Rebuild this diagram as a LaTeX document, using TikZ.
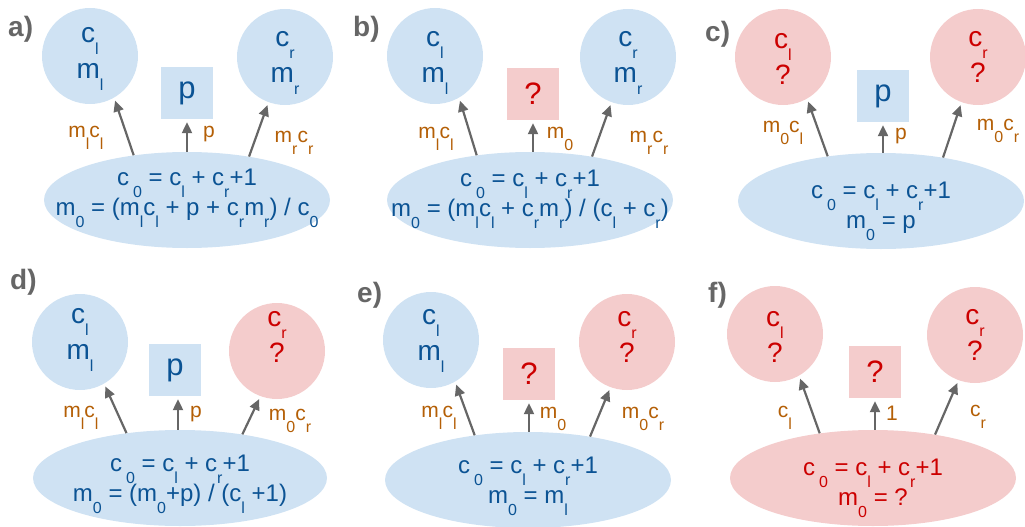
\documentclass[tikz,border=0pt]{standalone}
\usepackage{fontspec}
\setmainfont{Liberation Sans}
\usetikzlibrary{shapes.geometric,arrows.meta}
\definecolor{bfill}{HTML}{CFE2F3}
\definecolor{btext}{HTML}{0B5394}
\definecolor{rfill}{HTML}{F4CCCC}
\definecolor{rtext}{HTML}{CC0000}
\definecolor{otext}{HTML}{B45F06}
\definecolor{gline}{HTML}{666666}
\newcommand\sbs[1]{\smash{\raisebox{-12pt}{\fontsize{16}{18}\selectfont #1}}}
\tikzset{
  bcirc/.style={circle,fill=bfill,minimum size=96pt,inner sep=0pt},
  rcirc/.style={bcirc,fill=rfill},
  btxt/.style={text=btext,inner sep=0pt,align=center,font=\fontsize{28}{36}\selectfont},
  rtxt/.style={btxt,text=rtext},
  bsq/.style={rectangle,fill=bfill,text=btext,minimum size=52pt,inner sep=0pt,font=\fontsize{31}{32}\selectfont},
  rsq/.style={bsq,fill=rfill,text=rtext},
  bell/.style={ellipse,fill=bfill,minimum width=286pt,minimum height=96pt,inner sep=0pt},
  rell/.style={bell,fill=rfill},
  betxt/.style={text=btext,inner sep=0pt,align=center,anchor=north,font=\fontsize{24}{30}\selectfont},
  retxt/.style={betxt,text=rtext},
  lbl/.style={text=otext,inner sep=0pt,anchor=base,font=\fontsize{21}{24}\selectfont},
  plabel/.style={text=gline,inner sep=0pt,anchor=base west,font=\fontsize{28}{30}\selectfont\bfseries},
  arr/.style={draw=gline,line width=2.2pt,-{Triangle[length=11pt,width=10pt]},shorten >=3pt},
}
\begin{document}
\begin{tikzpicture}[x=1pt,y=-1pt]
\useasboundingbox (0,0) rectangle (1025,527);
% ---------- a)
\node[plabel] (alab) at (8,37) {a)};
\node[bcirc] (acl) at (90,56) {};
\node[btxt] (aclt) at (90,53) {c\sbs{l}\\m\sbs{l}};
\node[bcirc] (acr) at (285,57) {};
\node[btxt] (acrt) at (285,57) {c\sbs{r}\\m\sbs{r}};
\node[bsq] (asq) at (187,93) {p};
\node[bell] (ael) at (187,200) {};
\node[betxt] (aet) at (187,169) {c\,\sbs{0} = c\sbs{l} + c\sbs{r}+1\\m\sbs{0} = (m\sbs{l}c\sbs{l} + p + c\sbs{r}m\sbs{r}) / c\sbs{0}};
\draw[arr] (ael.140) -- (acl.300);
\draw[arr] (ael.north -| asq.south) -- (asq.south);
\draw[arr] (ael.35) -- (acr.250);
\node[lbl] (al1) at (86,137) {m\sbs{l}c\sbs{l}};
\node[lbl] (al2) at (209,137) {p};
\node[lbl] (al3) at (294,142) {m\sbs{r}c\sbs{r}};
% ---------- b)
\node[plabel] (blab) at (353,37) {b)};
\node[bcirc] (bcl) at (435,56) {};
\node[btxt] (bclt) at (435,57) {c\sbs{l}\\m\sbs{l}};
\node[bcirc] (bcr) at (628,57) {};
\node[btxt] (bcrt) at (628,57) {c\sbs{r}\\m\sbs{r}};
\node[rsq] (bsq) at (533,94) {?};
\node[bell] (bel) at (530,200) {};
\node[betxt] (bet) at (530,170) {c\,\sbs{0} = c\sbs{l} + c\sbs{r}+1\\m\sbs{0} = (m\sbs{l}c\sbs{l} + c\sbs{r}m\sbs{r}) / (c\sbs{l} + c\sbs{r})};
\draw[arr] (bel.140) -- (bcl.300);
\draw[arr] (bel.north -| bsq.south) -- (bsq.south);
\draw[arr] (bel.35) -- (bcr.250);
\node[lbl] (bl1) at (436,138) {m\sbs{l}c\sbs{l}};
\node[lbl] (bl2) at (560,138) {m\sbs{0}};
\node[lbl] (bl3) at (649,142) {m\sbs{r}c\sbs{r}};
% ---------- c)
\node[plabel] (clab) at (705,42) {c)};
\node[rcirc] (ccl) at (783,57) {};
\node[rtxt] (cclt) at (783,59) {c\sbs{l}\\?};
\node[rcirc] (ccr) at (978,57) {};
\node[rtxt] (ccrt) at (978,57) {c\sbs{r}\\?};
\node[bsq] (csq) at (883,96) {p};
\node[bell] (cel) at (881,201) {};
\node[betxt] (cet) at (881,182) {c\,\sbs{0} = c\sbs{l} + c\sbs{r}+1\\m\sbs{0} = p};
\draw[arr] (cel.140) -- (ccl.300);
\draw[arr] (cel.north -| csq.south) -- (csq.south);
\draw[arr] (cel.35) -- (ccr.250);
\node[lbl] (cl1) at (783,132) {m\sbs{0}c\sbs{l}};
\node[lbl] (cl2) at (901,139) {p};
\node[lbl] (cl3) at (998,130) {m\sbs{0}c\sbs{r}};
% ---------- d)
\node[plabel] (dlab) at (10,289) {d)};
\node[bcirc] (dcl) at (80,342) {};
\node[btxt] (dclt) at (80,334) {c\sbs{l}\\m\sbs{l}};
\node[rcirc] (dcr) at (277,351) {};
\node[rtxt] (dcrt) at (277,337) {c\sbs{r}\\?};
\node[bsq] (dsq) at (175,370) {p};
\node[bell,minimum width=294pt] (del) at (180,478) {};
\node[betxt] (det) at (180,455) {c\,\sbs{0} = c\sbs{l} + c\sbs{r}+1\\m\sbs{0} = (m\sbs{0}+p) / (c\sbs{l} +1)};
\draw[arr] (del.140) -- (dcl.300);
\draw[arr] ([xshift=3pt]del.north -| dsq.south) -- ([xshift=3pt]dsq.south);
\draw[arr] (del.35) -- (dcr.250);
\node[lbl] (dl1) at (81,417) {m\sbs{l}c\sbs{l}};
\node[lbl] (dl2) at (196,417) {p};
\node[lbl] (dl3) at (290,420) {m\sbs{0}c\sbs{r}};
% ---------- e)
\node[plabel] (elab) at (357,302) {e)};
\node[bcirc] (ecl) at (431,340) {};
\node[btxt] (eclt) at (431,335) {c\sbs{l}\\m\sbs{l}};
\node[rcirc] (ecr) at (627,342) {};
\node[rtxt] (ecrt) at (627,337) {c\sbs{r}\\?};
\node[rsq] (esq) at (529,374) {?};
\node[bell] (eel) at (528,480) {};
\node[betxt] (eet) at (528,457) {c\,\sbs{0} = c\sbs{l} + c\sbs{r}+1\\m\sbs{0} = m\sbs{l}};
\draw[arr] (eel.140) -- (ecl.300);
\draw[arr] (eel.north -| esq.south) -- (esq.south);
\draw[arr] (eel.35) -- (ecr.250);
\node[lbl] (el1) at (439,417) {m\sbs{l}c\sbs{l}};
\node[lbl] (el2) at (553,418) {m\sbs{0}};
\node[lbl] (el3) at (643,418) {m\sbs{0}c\sbs{r}};
% ---------- f)
\node[plabel] (flab) at (708,302) {f)};
\node[rcirc] (fcl) at (775,334) {};
\node[rtxt] (fclt) at (775,337) {c\sbs{l}\\?};
\node[rcirc] (fcr) at (975,335) {};
\node[rtxt] (fcrt) at (975,335) {c\sbs{r}\\?};
\node[rsq] (fsq) at (875,372) {?};
\node[rell] (fel) at (873,478) {};
\node[retxt] (fet) at (873,459) {c\,\sbs{0} = c\sbs{l} + c\sbs{r}+1\\m\sbs{0} = ?};
\draw[arr] (fel.140) -- (fcl.300);
\draw[arr] (fel.north -| fsq.south) -- (fsq.south);
\draw[arr] (fel.35) -- (fcr.250);
\node[lbl] (fl1) at (785,417) {c\sbs{l}};
\node[lbl] (fl2) at (892,420) {1};
\node[lbl] (fl3) at (978,416) {c\sbs{r}};
\end{tikzpicture}
\end{document}
